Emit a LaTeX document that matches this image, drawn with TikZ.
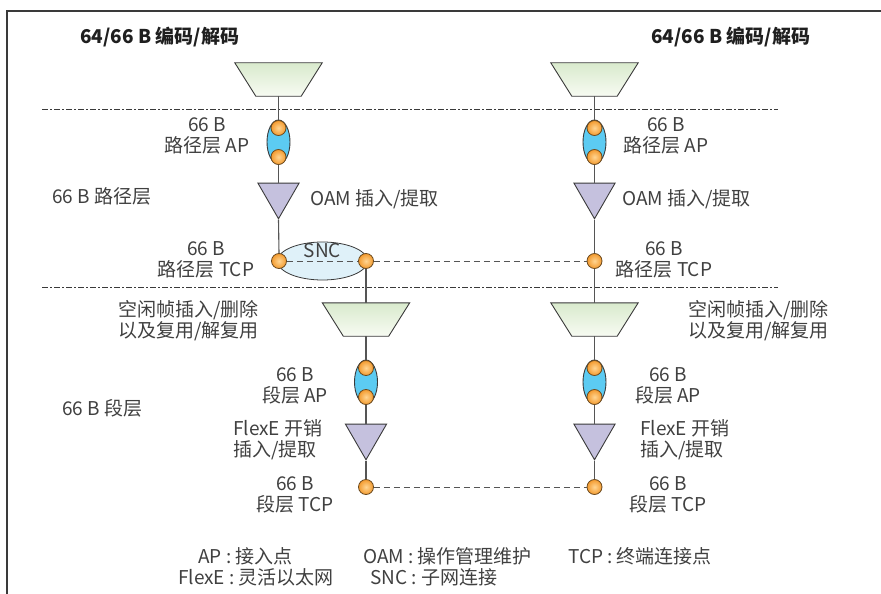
\documentclass[tikz,border=0pt]{standalone}
\usepackage{fontspec}
\setmainfont{Noto Sans CJK SC}
\usetikzlibrary{shapes.geometric}
\definecolor{linec}{HTML}{555555}
\definecolor{edgec}{HTML}{3A3A3A}
\definecolor{txtc}{HTML}{404040}
\definecolor{trapTop}{HTML}{D9EACD}
\definecolor{trapBot}{HTML}{F7FBF2}
\definecolor{apfill}{HTML}{5CCBF2}
\definecolor{trifill}{HTML}{C5C1DE}
\definecolor{sncfill}{HTML}{DFF1F9}
\definecolor{dotin}{HTML}{FFD592}
\definecolor{dotout}{HTML}{F39A2E}
\definecolor{dotedge}{HTML}{6B4A20}
\tikzset{
  lbl/.style={font=\fontsize{19}{21}\selectfont, text=txtc, inner sep=0pt, align=center},
  lbll/.style={font=\fontsize{19}{21}\selectfont, text=txtc, inner sep=0pt, align=left},
  ttl/.style={font=\fontsize{19}{21}\selectfont\bfseries, text=black!88, inner sep=0pt, anchor=west},
  trapbox/.style={rectangle, minimum width=87pt, minimum height=33pt, inner sep=0pt},
  trapshape/.style={draw=edgec, line width=0.9pt, top color=trapTop, bottom color=trapBot},
  tribox/.style={regular polygon, regular polygon sides=3, regular polygon rotate=180,
    minimum size=47.5pt, inner sep=0pt, draw=edgec, line width=0.9pt, fill=trifill},
  apbox/.style={ellipse, minimum width=23pt, minimum height=44pt, inner sep=0pt,
    draw=edgec, line width=0.9pt, fill=apfill},
  sncbox/.style={ellipse, minimum width=90pt, minimum height=38pt, inner sep=0pt,
    draw=edgec, line width=0.8pt, fill=sncfill},
  dotbox/.style={circle, minimum size=15pt, inner sep=0pt, draw=dotedge, line width=0.8pt,
    inner color=dotin, outer color=dotout},
  conn/.style={draw=linec, line width=1.1pt},
  dashconn/.style={draw=linec, line width=0.9pt, dash pattern=on 6pt off 4pt},
  sepline/.style={draw=edgec, line width=0.8pt, dash pattern=on 6pt off 2pt on 2pt off 2pt},
}
\newcommand{\trapdraw}[1]{%
  \path[trapshape] (#1.north west) -- (#1.north east) -- ([xshift=-21pt]#1.south east)
    -- ([xshift=21pt]#1.south west) -- cycle;}
\begin{document}
\begin{tikzpicture}[x=1pt, y=-1pt]
\useasboundingbox (0,0) rectangle (881,594);
% frame
\coordinate (fTR) at (881,11);
\coordinate (fTL) at (7,11);
\coordinate (fBL) at (7,594);
\draw[edgec, line width=1.2pt] (fTR) -- (fTL) -- (fBL);
% separator lines
\coordinate (s1a) at (42,109); \coordinate (s1b) at (778,109);
\coordinate (s2a) at (42,287); \coordinate (s2b) at (778,287);
\draw[sepline] (s1a) -- (s1b);
\draw[sepline] (s2a) -- (s2b);

% titles
\node[ttl] (t1) at (80,37) {64/66 B 编码/解码};
\node[ttl] (t2) at (651,37) {64/66 B 编码/解码};

% ---- upper left column (x=278.5)
\node[trapbox] (trUL) at (278.5,79.5) {};
\trapdraw{trUL}
\node[apbox] (apUL) at (278.5,142) {};
\node[dotbox] (apULa) at (278.5,128) {};
\node[dotbox] (apULb) at (278.5,157) {};
\node[tribox] (triUL) at (278.5,195) {};
% SNC
\node[sncbox] (snc) at (322.5,261) {};
\node[lbl] (snct) at (322.5,251) {SNC};
\node[dotbox] (tcpUL) at (279,261) {};
\node[dotbox] (sncR) at (366,261) {};

% ---- upper right column (x=594.5)
\node[trapbox] (trUR) at (594.5,79.5) {};
\trapdraw{trUR}
\node[apbox] (apUR) at (594.5,142) {};
\node[dotbox] (apURa) at (594.5,128) {};
\node[dotbox] (apURb) at (594.5,157) {};
\node[tribox] (triUR) at (594.5,195) {};
\node[dotbox] (tcpUR) at (594.5,261) {};

% ---- lower left column (x=366)
\node[trapbox] (trLL) at (366,319.5) {};
\trapdraw{trLL}
\node[apbox] (apLL) at (366,382) {};
\node[dotbox] (apLLa) at (366,368) {};
\node[dotbox] (apLLb) at (366,397) {};
\node[tribox] (triLL) at (366,436) {};
\node[dotbox] (tcpLL) at (366,487) {};

% ---- lower right column (x=594.5)
\node[trapbox] (trLR) at (594.5,319.5) {};
\trapdraw{trLR}
\node[apbox] (apLR) at (594.5,382) {};
\node[dotbox] (apLRa) at (594.5,368) {};
\node[dotbox] (apLRb) at (594.5,397) {};
\node[tribox] (triLR) at (594.5,436) {};
\node[dotbox] (tcpLR) at (594.5,487) {};

% connectors
\draw[conn] (trUL.south) -- (apULa.north);
\draw[conn] (apULb.south) -- (triUL.north);
\draw[conn] (triUL.south) -- (tcpUL.north);
\draw[conn] (sncR.south) -- (trLL.north);
\draw[conn] (trLL.south) -- (apLLa.north);
\draw[conn] (apLLb.south) -- (triLL.north);
\draw[conn] (triLL.south) -- (tcpLL.north);

\draw[conn] (trUR.south) -- (apURa.north);
\draw[conn] (apURb.south) -- (triUR.north);
\draw[conn] (triUR.south) -- (tcpUR.north);
\draw[conn] (tcpUR.south) -- (trLR.north);
\draw[conn] (trLR.south) -- (apLRa.north);
\draw[conn] (apLRb.south) -- (triLR.north);
\draw[conn] (triLR.south) -- (tcpLR.north);

\draw[dashconn] (tcpUL.east) -- (sncR.west);
\draw[dashconn] (sncR.east) -- (tcpUR.west);
\draw[dashconn] (tcpLL.east) -- (tcpLR.west);

% labels
\node[lbl] (lApUL) at (207,136) {66 B\\路径层 AP};
\node[lbl] (lApUR) at (666,136) {66 B\\路径层 AP};
\node[lbl, anchor=west] (lPath) at (52,196) {66 B 路径层};
\node[lbl, anchor=west] (lOamL) at (310,199) {OAM 插入/提取};
\node[lbl, anchor=west] (lOamR) at (622,199) {OAM 插入/提取};
\node[lbl] (lTcpUL) at (206,260) {66 B\\路径层 TCP};
\node[lbl] (lTcpUR) at (664,260) {66 B\\路径层 TCP};
\node[lbll, anchor=west] (lIdleL) at (118,321) {空闲帧插入/删除\\以及复用/解复用};
\node[lbll, anchor=west] (lIdleR) at (688,321) {空闲帧插入/删除\\以及复用/解复用};
\node[lbl, anchor=west] (lSec) at (62,408) {66 B 段层};
\node[lbl] (lApLL) at (295,385.5) {66 B\\段层 AP};
\node[lbl] (lApLR) at (668,385.5) {66 B\\段层 AP};
\node[lbll, anchor=west] (lFxL) at (233,440) {FlexE 开销\\插入/提取};
\node[lbll, anchor=west] (lFxR) at (640,440) {FlexE 开销\\插入/提取};
\node[lbl] (lTcpLL) at (295,494.5) {66 B\\段层 TCP};
\node[lbl] (lTcpLR) at (668,494.5) {66 B\\段层 TCP};

% legend
\node[lbl, anchor=west] (g1) at (198,556) {AP : 接入点};
\node[lbl, anchor=west] (g2) at (178,577) {FlexE : 灵活以太网};
\node[lbl, anchor=west] (g3) at (363,556) {OAM : 操作管理维护};
\node[lbl, anchor=west] (g4) at (370,577) {SNC : 子网连接};
\node[lbl, anchor=west] (g5) at (568,556) {TCP : 终端连接点};
\end{tikzpicture}
\end{document}
